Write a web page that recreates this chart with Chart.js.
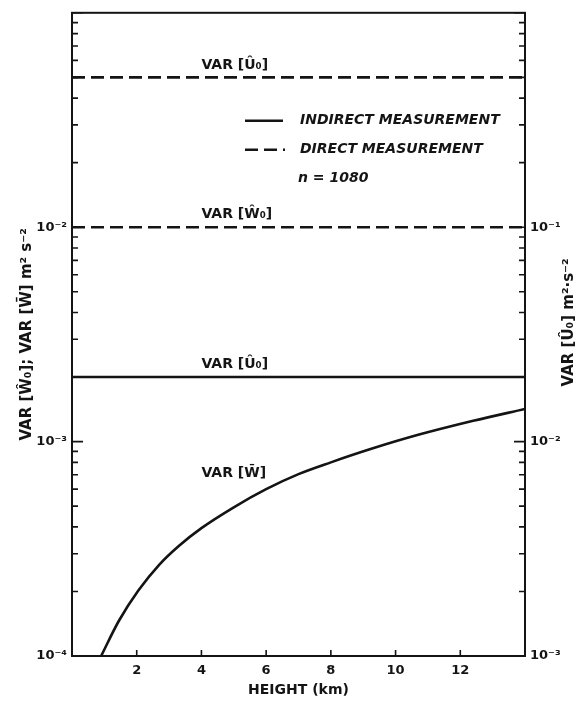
<!DOCTYPE html>
<html>
<head>
<meta charset="utf-8">
<script src="https://cdn.jsdelivr.net/npm/chart.js@4.4.1/dist/chart.umd.min.js"></script>
<style>
  html, body { margin: 0; padding: 0; background: #fff; }
  canvas { display: block; }
</style>
</head>
<body>
<canvas id="chart" width="576" height="701"></canvas>
<script>
// VAR[W-bar] curve (height in km, variance in m^2 s^-2)
const heights = [0.9, 1.45, 2.05, 2.7, 3.3, 4.0, 5.0, 6.0, 7.0, 8.0, 9.3, 10.7, 12.4, 14.0];
const varWbar = [1.0e-4, 1.46e-4, 2.02e-4, 2.67e-4, 3.26e-4, 3.95e-4, 4.94e-4, 6.0e-4, 7.05e-4, 8.0e-4, 9.3e-4, 1.075e-3, 1.25e-3, 1.42e-3];

// constant lines
const heightRange = [0, 14];
const directU0 = 5e-1;    // right axis
const directW0 = 1e-2;    // left axis
const indirectU0 = 2e-2;  // right axis

// axes
const xTicks = [2, 4, 6, 8, 10, 12];
const leftDecades = [-4, -3, -2, -1];
const rightDecades = [-3, -2, -1, 0];
const leftLabelled = [-4, -3, -2];
const rightLabelled = [-3, -2, -1];

// text labels next to the curves: [text, height, value, axis]
const curveLabels = [
    ['VAR [Û₀]', 4, 0.57, 'y2'],
    ['VAR [Ŵ₀]', 4, 1.15e-2, 'y'],
    ['VAR [Û₀]', 4, 2.3e-2, 'y2'],
    ['VAR [W̄]', 4, 7.1e-4, 'y']
];

const INK = '#141414';
const FONT = '"DejaVu Sans", sans-serif';

const SUP = { '-': '⁻', '0': '⁰', '1': '¹', '2': '²', '3': '³', '4': '⁴' };
const pow10Label = e => '10' + String(e).split('').map(c => SUP[c]).join('');

function logTicks(decades) {
    const out = [];
    for (let i = 0; i < decades.length - 1; i++) {
        for (let m = 1; m <= 9; m++) out.push(m * Math.pow(10, decades[i]));
    }
    out.push(Math.pow(10, decades[decades.length - 1]));
    return out;
}

function decadeOf(v) {
    const e = Math.round(Math.log10(v));
    return Math.abs(v / Math.pow(10, e) - 1) < 1e-6 ? e : null;
}

const decor = {
    id: 'decor',
    afterDraw(chart) {
        const { ctx, chartArea: a, scales } = chart;
        ctx.save();
        ctx.strokeStyle = INK;
        ctx.fillStyle = INK;

        // frame
        ctx.lineWidth = 2;
        ctx.strokeRect(a.left, a.top, a.right - a.left, a.bottom - a.top);

        // inward ticks
        ctx.lineWidth = 1.6;
        ctx.beginPath();
        scales.y.ticks.forEach(t => {
            const py = scales.y.getPixelForValue(t.value);
            const len = decadeOf(t.value) !== null ? 11 : 6;
            ctx.moveTo(a.left, py); ctx.lineTo(a.left + len, py);
        });
        scales.y2.ticks.forEach(t => {
            const py = scales.y2.getPixelForValue(t.value);
            const len = decadeOf(t.value) !== null ? 11 : 6;
            ctx.moveTo(a.right, py); ctx.lineTo(a.right - len, py);
        });
        scales.x.ticks.forEach(t => {
            const px = scales.x.getPixelForValue(t.value);
            ctx.moveTo(px, a.bottom); ctx.lineTo(px, a.bottom - 6);
        });
        ctx.stroke();

        // curve labels
        ctx.font = 'bold 14px ' + FONT;
        ctx.textAlign = 'left';
        ctx.textBaseline = 'middle';
        curveLabels.forEach(([text, h, v, axis]) => {
            ctx.fillText(text, scales.x.getPixelForValue(h), scales[axis].getPixelForValue(v));
        });

        // legend
        const lx = a.left + 173, ly1 = a.top + 108, ly2 = a.top + 137;
        ctx.lineWidth = 2.5;
        ctx.beginPath();
        ctx.moveTo(lx, ly1); ctx.lineTo(lx + 38, ly1);
        ctx.stroke();
        ctx.setLineDash([13, 6]);
        ctx.beginPath();
        ctx.moveTo(lx, ly2); ctx.lineTo(lx + 40, ly2);
        ctx.stroke();
        ctx.setLineDash([]);
        ctx.font = 'italic bold 14px ' + FONT;
        ctx.fillText('INDIRECT MEASUREMENT', lx + 55, ly1);
        ctx.fillText('DIRECT MEASUREMENT', lx + 55, ly2);
        ctx.fillText('n = 1080', lx + 53, ly2 + 29);

        // right axis title, reading bottom to top like the left one
        ctx.translate(569, (a.top + a.bottom) / 2 - 12);
        ctx.rotate(-Math.PI / 2);
        ctx.textAlign = 'center';
        ctx.font = 'bold 15px ' + FONT;
        ctx.fillText('VAR [Û₀] m²·s⁻²', 0, 0);
        ctx.restore();
    }
};

const lineStyle = { borderColor: INK, borderWidth: 2.6, pointRadius: 0, fill: false };
const noGrid = { display: false, drawTicks: false, tickLength: 0 };

new Chart(document.getElementById('chart').getContext('2d'), {
    type: 'line',
    data: {
        datasets: [
            Object.assign({
                label: 'VAR [W̄]',
                data: heights.map((h, i) => ({ x: h, y: varWbar[i] })),
                yAxisID: 'y',
                cubicInterpolationMode: 'monotone'
            }, lineStyle),
            Object.assign({
                label: 'VAR [Ŵ₀] direct',
                data: heightRange.map(h => ({ x: h, y: directW0 })),
                yAxisID: 'y',
                borderDash: [13, 6]
            }, lineStyle),
            Object.assign({
                label: 'VAR [Û₀] direct',
                data: heightRange.map(h => ({ x: h, y: directU0 })),
                yAxisID: 'y2',
                borderDash: [13, 6]
            }, lineStyle),
            Object.assign({
                label: 'VAR [Û₀] indirect',
                data: heightRange.map(h => ({ x: h, y: indirectU0 })),
                yAxisID: 'y2'
            }, lineStyle)
        ]
    },
    options: {
        responsive: false,
        animation: false,
        layout: { padding: { top: 10, left: 0, right: 0, bottom: 0 } },
        plugins: {
            legend: { display: false },
            tooltip: { enabled: false }
        },
        scales: {
            x: {
                type: 'linear',
                min: heightRange[0],
                max: heightRange[1],
                afterBuildTicks: s => { s.ticks = xTicks.map(v => ({ value: v })); },
                afterFit: s => { s.height = 45; },
                grid: noGrid,
                border: { display: false },
                ticks: { color: INK, font: { family: FONT, size: 13, weight: 'bold' }, padding: 7, autoSkip: false, maxRotation: 0 },
                title: {
                    display: true,
                    text: 'HEIGHT (km)',
                    color: INK,
                    font: { family: FONT, size: 14, weight: 'bold' },
                    padding: { top: 0, bottom: 2 }
                }
            },
            y: {
                type: 'logarithmic',
                position: 'left',
                min: Math.pow(10, leftDecades[0]),
                max: Math.pow(10, leftDecades[leftDecades.length - 1]),
                afterBuildTicks: s => { s.ticks = logTicks(leftDecades).map(v => ({ value: v })); },
                afterFit: s => { s.width = 72; },
                grid: noGrid,
                border: { display: false },
                ticks: {
                    color: INK,
                    font: { family: FONT, size: 13, weight: 'bold' },
                    padding: 5,
                    autoSkip: false,
                    callback: v => {
                        const e = decadeOf(v);
                        return e !== null && leftLabelled.includes(e) ? pow10Label(e) : '';
                    }
                },
                title: {
                    display: true,
                    text: 'VAR [Ŵ₀]; VAR [W̄] m² s⁻²',
                    color: INK,
                    font: { family: FONT, size: 15, weight: 'bold' },
                    padding: { top: 18, bottom: 0 }
                }
            },
            y2: {
                type: 'logarithmic',
                position: 'right',
                min: Math.pow(10, rightDecades[0]),
                max: Math.pow(10, rightDecades[rightDecades.length - 1]),
                afterBuildTicks: s => { s.ticks = logTicks(rightDecades).map(v => ({ value: v })); },
                afterFit: s => { s.width = 51; },
                grid: noGrid,
                border: { display: false },
                ticks: {
                    color: INK,
                    font: { family: FONT, size: 13, weight: 'bold' },
                    padding: 5,
                    autoSkip: false,
                    callback: v => {
                        const e = decadeOf(v);
                        return e !== null && rightLabelled.includes(e) ? pow10Label(e) : '';
                    }
                }
            }
        }
    },
    plugins: [decor]
});
</script>
</body>
</html>
